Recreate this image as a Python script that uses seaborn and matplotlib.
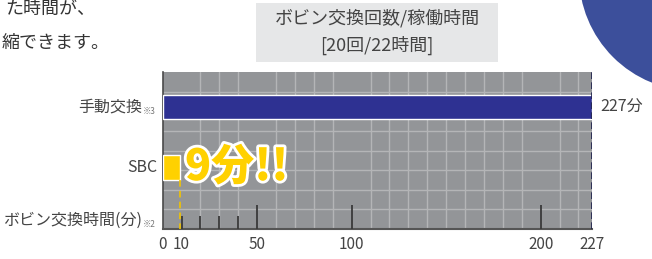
import matplotlib
matplotlib.use('Agg')
import matplotlib.pyplot as plt
import matplotlib.patches as mpatches
import matplotlib.patheffects as pe
import matplotlib.transforms as mtrans
import seaborn as sns
import numpy as np
import pandas as pd

# データ
categories = ['手動交換', 'SBC']
minutes = [227, 9]
bar_colors = ['#2e3192', '#ffd100']
row_notes = ['※3', '']
axis_row_label = 'ボビン交換時間(分)'
axis_row_note = '※2'
xtick_values = [0, 10, 50, 100, 200, 227]
short_ticks = [10, 20, 30, 40]
long_ticks = [50, 100, 200]
title_lines = ['ボビン交換回数/稼働時間', '[20回/22時間]']
value_label = '227分'
highlight = '9分!!'
body_lines = ['た時間が、', '縮できます。']

sns.set_theme(style='white')
plt.rcParams['font.family'] = ['Noto Sans CJK JP', 'DejaVu Sans']

df = pd.DataFrame({'cat': categories, 'min': minutes})

fig = plt.figure(figsize=(6.52, 2.59), dpi=100)
ax = fig.add_axes([0.2495, 0.1158, 0.658, 0.606])
ax.set_facecolor('#939598')

sns.barplot(data=df, x='min', y='cat', hue='cat', palette=bar_colors,
            width=0.4, orient='h', legend=False, ax=ax, zorder=3,
            saturation=1)

ax.set_xlim(0, 227)
ax.set_ylim(2.02, -0.58)

# グリッド
ax.set_xticks(np.arange(10, 221, 10), minor=True)
ax.set_yticks(np.linspace(-0.58, 2.02, 9)[1:-1], minor=True)
ax.grid(which='minor', color='#b4b5b7', linewidth=1.0, zorder=1)
ax.grid(which='major', visible=False)
ax.set_axisbelow(True)

ax.set_xticks(xtick_values)
ax.set_xticklabels([str(v) for v in xtick_values])
ax.tick_params(axis='x', which='both', length=0, labelsize=11,
               labelcolor='#444444', pad=5)
ax.set_yticks([])
ax.set_xlabel('')
ax.set_ylabel('')

for s in ['top', 'right']:
    ax.spines[s].set_visible(False)
ax.spines['left'].set_color('#4a4a4a')
ax.spines['left'].set_linewidth(1.2)
ax.spines['bottom'].set_color('#555555')
ax.spines['bottom'].set_linewidth(1.5)

# 目盛り線 (プロット内部)
trans = mtrans.blended_transform_factory(ax.transData, ax.transAxes)
ax.vlines(short_ticks, 0, 0.085, transform=trans, color='#3a3a3a',
          linewidth=1.3, zorder=4)
ax.vlines(long_ticks, 0, 0.155, transform=trans, color='#3a3a3a',
          linewidth=1.3, zorder=4)
ax.axvline(minutes[0], color='#1c1f4a', linewidth=1.2, linestyle=(0, (4, 2)),
           zorder=5)

# SBC の破線
ax.vlines(minutes[1], 1.2, 2.02, color='#f2c500', linewidth=1.2,
          linestyle=(0, (4, 2.5)), zorder=4)

# 行ラベル
ylab = mtrans.blended_transform_factory(fig.transFigure, ax.transData)
for i, (cat, note) in enumerate(zip(categories, row_notes)):
    if note:
        ax.text(142 / 652, i, cat, transform=ylab, ha='right', va='center',
                fontsize=11.5, color='#444444')
        ax.text(143 / 652, i + 0.07, note, transform=ylab, ha='left',
                va='center', fontsize=6, color='#777777')
    else:
        ax.text(157.5 / 652, i, cat, transform=ylab, ha='right', va='center',
                fontsize=11.5, color='#444444')
ax.text(142 / 652, 1.88, axis_row_label, transform=ylab, ha='right',
        va='center', fontsize=11.5, color='#444444')
ax.text(143 / 652, 1.95, axis_row_note, transform=ylab, ha='left',
        va='center', fontsize=6, color='#777777')

# 値ラベル
ax.text(600 / 652, 0, value_label, transform=ylab, ha='left', va='center',
        fontsize=11.5, color='#444444')
ax.text(11.8, 1.0, highlight, ha='left', va='center', fontsize=31,
        fontweight='heavy', color='#ffd100', zorder=6,
        path_effects=[pe.withStroke(linewidth=4, foreground='white')])

# タイトルボックス
fig.add_artist(mpatches.Rectangle((256 / 652, 1 - 62 / 259), 242 / 652,
                                  59 / 259, transform=fig.transFigure,
                                  facecolor='#e6e7e8', edgecolor='none'))
fig.text(377 / 652, 1 - 18 / 259, title_lines[0], ha='center', va='center',
         fontsize=13, color='#444444')
fig.text(377 / 652, 1 - 45 / 259, title_lines[1], ha='center', va='center',
         fontsize=13, color='#444444')

# 周囲の本文
fig.text(95 / 652, 1 - 9 / 259, body_lines[0], ha='right', va='center',
         fontsize=13, color='#333333')
fig.text(110 / 652, 1 - 43 / 259, body_lines[1], ha='right', va='center',
         fontsize=13, color='#333333')

# 右上の円
fig.add_artist(mpatches.Ellipse((695 / 652, 1 + 25 / 259), 232 / 652,
                                232 / 259, transform=fig.transFigure,
                                facecolor='#3c4f9b', edgecolor='none'))

fig.savefig('out.png', dpi=100)
